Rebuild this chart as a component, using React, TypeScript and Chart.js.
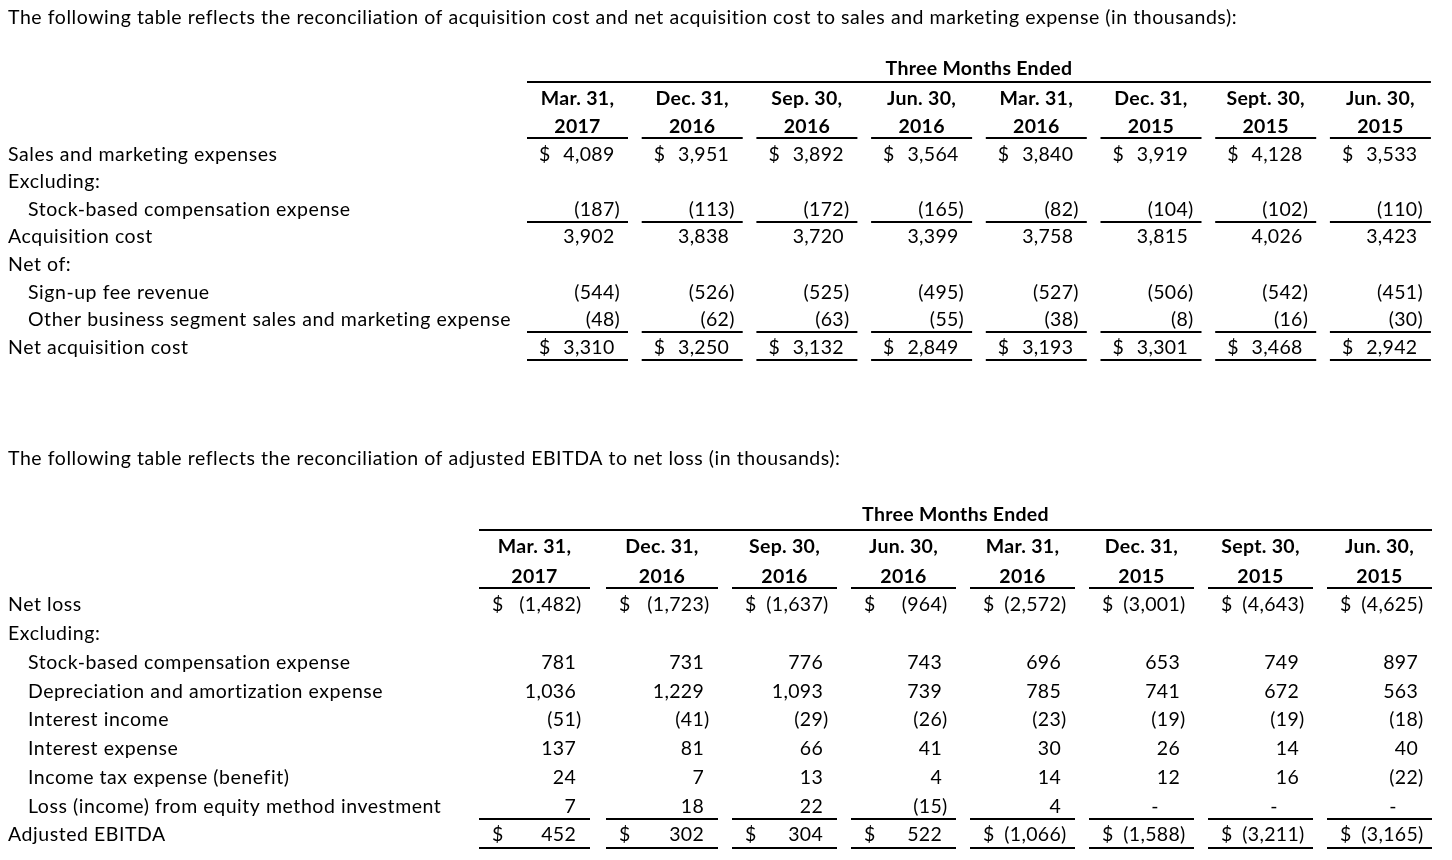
import React, { useEffect, useRef } from "react";
import { Chart, registerables } from "chart.js";

Chart.register(...registerables);

// ---------- data ----------
const periodMonths = ["Mar. 31,", "Dec. 31,", "Sep. 30,", "Jun. 30,", "Mar. 31,", "Dec. 31,", "Sept. 30,", "Jun. 30,"];
const periodYears = ["2017", "2016", "2016", "2016", "2016", "2015", "2015", "2015"];
const spanLabel = "Three Months Ended";

const title1 =
  "The following table reflects the reconciliation of acquisition cost and net acquisition cost to sales and marketing expense (in thousands):";
const salesMarketing = [4089, 3951, 3892, 3564, 3840, 3919, 4128, 3533];
const stockComp1 = [-187, -113, -172, -165, -82, -104, -102, -110];
const acquisitionCost = [3902, 3838, 3720, 3399, 3758, 3815, 4026, 3423];
const signUpFee = [-544, -526, -525, -495, -527, -506, -542, -451];
const otherSegment = [-48, -62, -63, -55, -38, -8, -16, -30];
const netAcquisition = [3310, 3250, 3132, 2849, 3193, 3301, 3468, 2942];

const title2 = "The following table reflects the reconciliation of adjusted EBITDA to net loss (in thousands):";
const netLoss = [-1482, -1723, -1637, -964, -2572, -3001, -4643, -4625];
const stockComp2 = [781, 731, 776, 743, 696, 653, 749, 897];
const depreciation = [1036, 1229, 1093, 739, 785, 741, 672, 563];
const interestIncome = [-51, -41, -29, -26, -23, -19, -19, -18];
const interestExpense = [137, 81, 66, 41, 30, 26, 14, 40];
const incomeTax = [24, 7, 13, 4, 14, 12, 16, -22];
const equityMethod = [7, 18, 22, -15, 4, 0, 0, 0];
const adjustedEbitda = [452, 302, 304, 522, -1066, -1588, -3211, -3165];

type Row = { label: string; indent?: boolean; values?: number[]; dollar?: boolean; rule?: boolean };

const rows1: Row[] = [
  { label: "Sales and marketing expenses", values: salesMarketing, dollar: true },
  { label: "Excluding:" },
  { label: "Stock-based compensation expense", indent: true, values: stockComp1, rule: true },
  { label: "Acquisition cost", values: acquisitionCost },
  { label: "Net of:" },
  { label: "Sign-up fee revenue", indent: true, values: signUpFee },
  { label: "Other business segment sales and marketing expense", indent: true, values: otherSegment, rule: true },
  { label: "Net acquisition cost", values: netAcquisition, dollar: true, rule: true },
];

const rows2: Row[] = [
  { label: "Net loss", values: netLoss, dollar: true },
  { label: "Excluding:" },
  { label: "Stock-based compensation expense", indent: true, values: stockComp2 },
  { label: "Depreciation and amortization expense", indent: true, values: depreciation },
  { label: "Interest income", indent: true, values: interestIncome },
  { label: "Interest expense", indent: true, values: interestExpense },
  { label: "Income tax expense (benefit)", indent: true, values: incomeTax },
  { label: "Loss (income) from equity method investment", indent: true, values: equityMethod, rule: true },
  { label: "Adjusted EBITDA", values: adjustedEbitda, dollar: true, rule: true },
];

// ---------- layout ----------
const W = 1452;
const H = 430;
const FONT = "Lato, 'Noto Sans', sans-serif";
const FS = 19.5;
const LS_TEXT = "0.55px";
const LS_NUM = "0.3px";
const LS_BOLD = "0.3px";

type Layout = {
  title: string;
  rows: Row[];
  colPitch: number;
  firstRight: number;
  colWidths: number[];
  colNudge: number[];
  rowPitch: number;
  firstRowY: number;
  titleRow: number;
  spanRow: number;
  hdr1Row: number;
  hdr2Row: number;
  topRule: number;
  hdrRule: number;
  ruleOffset: number;
  numInset: number;
  dollarInset: number;
  dashInset: number;
  labelX: number;
  indentX: number;
};

const layout1: Layout = {
  title: title1,
  rows: rows1,
  colPitch: 114.7,
  firstRight: 628,
  colWidths: [101, 101, 101, 101, 101, 101, 101, 101],
  colNudge: [0, 0, 0, 0, 0, 0, 0, 0],
  rowPitch: 27.57,
  firstRowY: 154.5,
  titleRow: -4.95,
  spanRow: -3.1,
  hdr1Row: -2.03,
  hdr2Row: -1.0,
  topRule: -2.62,
  hdrRule: -0.59,
  ruleOffset: 0.44,
  numInset: 13.5,
  dollarInset: 12,
  dashInset: 39,
  labelX: 8,
  indentX: 28,
};

const layout2: Layout = {
  title: title2,
  rows: rows2,
  colPitch: 119,
  firstRight: 599,
  colWidths: [111, 112, 105, 105, 105, 105, 105, 105],
  colNudge: [-9, 0, 0, 0, 0, 0, 0, 0],
  rowPitch: 28.75,
  firstRowY: 175,
  titleRow: -5.08,
  spanRow: -3.13,
  hdr1Row: -2.02,
  hdr2Row: -1.0,
  topRule: -2.6,
  hdrRule: -0.6,
  ruleOffset: 0.44,
  numInset: 14,
  dollarInset: 13,
  dashInset: 39,
  labelX: 8,
  indentX: 28,
};

function fmtAbs(v: number) {
  return Math.abs(v).toLocaleString("en-US");
}

function setLS(ctx: any, ls: string) {
  if ("letterSpacing" in ctx) ctx.letterSpacing = ls;
}

function makeTablePlugin(L: Layout) {
  return {
    id: "tableText",
    afterDatasetsDraw(chart: any) {
      const ctx: CanvasRenderingContext2D = chart.ctx;
      const xs = chart.scales.x;
      const ys = chart.scales.y;
      const nCols = periodMonths.length;
      const colRight = (i: number) => xs.getPixelForValue(i) + L.colNudge[i];
      const colLeft = (i: number) => colRight(i) - L.colWidths[i];
      const rowY = (r: number) => ys.getPixelForValue(r);
      const rule = (x0: number, x1: number, r: number) => {
        const y = Math.round(rowY(r));
        ctx.fillRect(x0, y - 1, x1 - x0, 2);
      };

      ctx.save();
      ctx.fillStyle = "#000";
      ctx.textBaseline = "middle";

      // title
      ctx.font = `${FS}px ${FONT}`;
      setLS(ctx, LS_TEXT);
      ctx.textAlign = "left";
      ctx.fillText(L.title, L.labelX, rowY(L.titleRow));

      // header
      ctx.font = `bold ${FS}px ${FONT}`;
      setLS(ctx, LS_BOLD);
      ctx.textAlign = "center";
      const spanL = colLeft(0);
      const spanR = colRight(nCols - 1);
      ctx.fillText(spanLabel, (spanL + spanR) / 2, rowY(L.spanRow));
      rule(spanL, spanR, L.topRule);
      for (let i = 0; i < nCols; i++) {
        const cx = (colLeft(i) + colRight(i)) / 2;
        ctx.fillText(periodMonths[i], cx, rowY(L.hdr1Row));
        ctx.fillText(periodYears[i], cx, rowY(L.hdr2Row));
        rule(colLeft(i), colRight(i), L.hdrRule);
      }

      // row labels
      ctx.font = `${FS}px ${FONT}`;
      setLS(ctx, LS_TEXT);
      L.rows.forEach((row, r) => {
        ctx.textAlign = "left";
        ctx.fillText(row.label, row.indent ? L.indentX : L.labelX, rowY(r));
      });

      // values from dataset elements
      setLS(ctx, LS_NUM);
      chart.data.datasets.forEach((ds: any, di: number) => {
        const meta = chart.getDatasetMeta(di);
        const row: Row = ds.rowDef;
        meta.data.forEach((el: any, j: number) => {
          const raw = ds.data[j];
          const right = el.x + L.colNudge[j];
          const left = right - L.colWidths[j];
          const y = el.y;
          const v: number = raw.v;
          const numRight = right - L.numInset;
          if (row.dollar) {
            ctx.textAlign = "left";
            ctx.fillText("$", left + L.dollarInset, y);
          }
          if (v === 0) {
            ctx.textAlign = "center";
            ctx.fillText("-", right - L.dashInset, y);
          } else if (v < 0) {
            const digits = fmtAbs(v);
            ctx.textAlign = "right";
            ctx.fillText(digits, numRight, y);
            const w = ctx.measureText(digits).width;
            ctx.fillText("(", numRight - w, y);
            ctx.textAlign = "left";
            ctx.fillText(")", numRight, y);
          } else {
            ctx.textAlign = "right";
            ctx.fillText(fmtAbs(v), numRight, y);
          }
          if (row.rule) rule(left, right, ys.getValueForPixel(y) + L.ruleOffset);
        });
      });
      ctx.restore();
    },
  };
}

function TableChart({ L }: { L: Layout }) {
  const ref = useRef<HTMLCanvasElement | null>(null);
  useEffect(() => {
    if (!ref.current) return;
    const datasets = L.rows
      .map((row, r) => ({ row, r }))
      .filter((o) => o.row.values)
      .map(({ row, r }) => ({
        label: row.label,
        rowDef: row,
        data: (row.values as number[]).map((v, i) => ({ x: i, y: r, v })),
        pointRadius: 0,
        pointHoverRadius: 0,
        showLine: false,
      }));
    const xMin = -L.firstRight / L.colPitch;
    const xMax = (W - L.firstRight) / L.colPitch;
    const yMin = -L.firstRowY / L.rowPitch;
    const yMax = yMin + H / L.rowPitch;
    const chart = new Chart(ref.current, {
      type: "scatter",
      data: { datasets: datasets as any },
      options: {
        animation: false,
        responsive: false,
        devicePixelRatio: 1,
        layout: { padding: 0 },
        events: [],
        plugins: { legend: { display: false }, tooltip: { enabled: false } },
        scales: {
          x: { type: "linear", display: false, min: xMin, max: xMax },
          y: { type: "linear", display: false, reverse: true, min: yMin, max: yMax },
        },
      },
      plugins: [makeTablePlugin(L)],
    });
    return () => chart.destroy();
  }, [L]);
  return <canvas ref={ref} width={W} height={H} style={{ display: "block", width: W, height: H }} />;
}

export default function App() {
  useEffect(() => {
    document.body.style.margin = "0";
    document.body.style.background = "#fff";
  }, []);
  return (
    <div style={{ width: W, height: 860, background: "#fff" }}>
      <TableChart L={layout1} />
      <TableChart L={layout2} />
    </div>
  );
}
